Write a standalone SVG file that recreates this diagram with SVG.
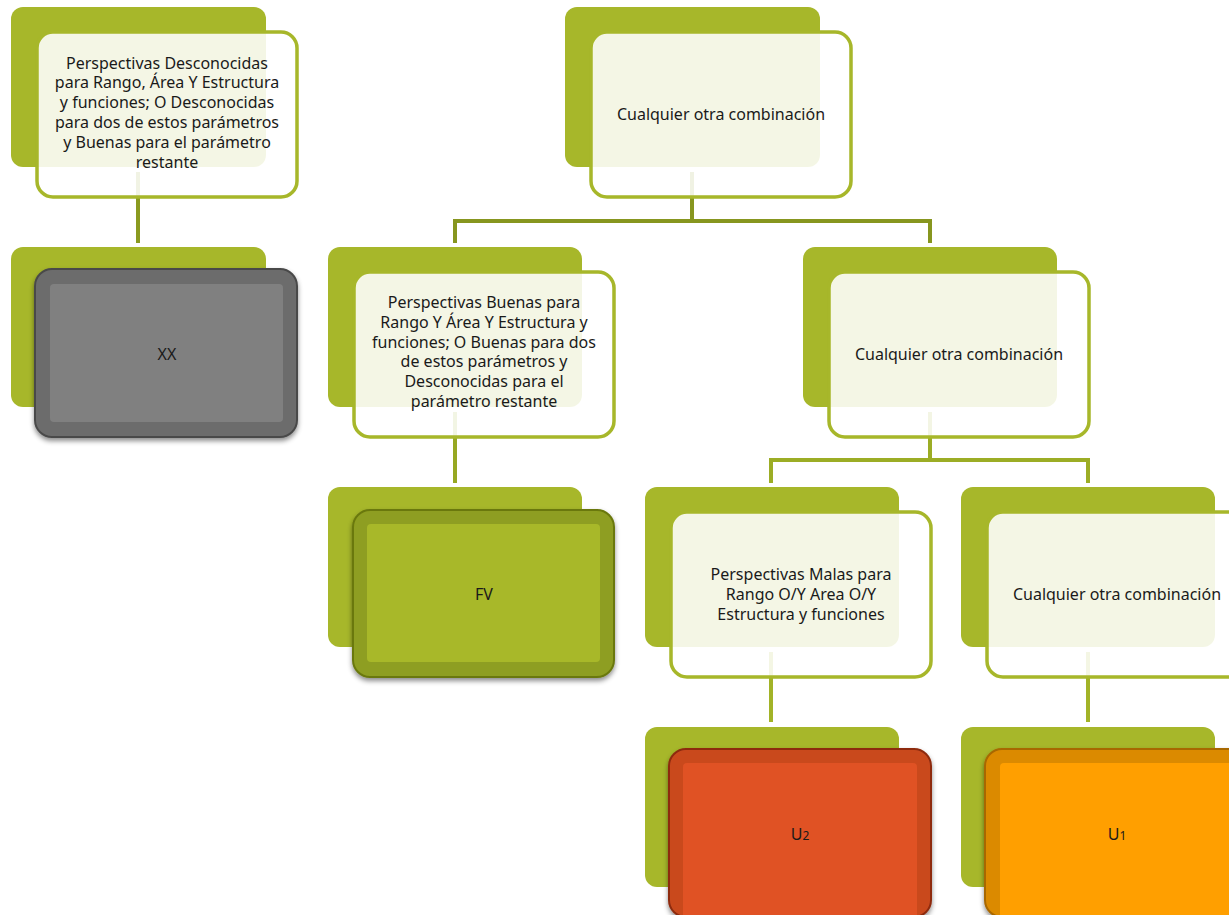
<svg xmlns="http://www.w3.org/2000/svg" width="1229" height="915" viewBox="0 0 1229 915">
<defs>
<style>
.back{fill:#a7b72a}
.front{fill:#ffffff;fill-opacity:0.88;stroke:#a7b72a;stroke-width:3.5}
.t{font-family:"Noto Sans","Open Sans",sans-serif;font-size:16px;fill:#1a1a1a;text-anchor:middle}
.conn{fill:none;stroke-width:4;stroke-linejoin:miter}
.gray .ring{fill:#6c6c6c;stroke:#4a4a4a;stroke-width:2}
.gray .core{fill:#808080}
.green .ring{fill:#8e9e20;stroke:#6a7810;stroke-width:2}
.green .core{fill:#a8b829}
.red .ring{fill:#c94a1f;stroke:#8e2c10;stroke-width:2}
.red .core{fill:#e05224}
.orange .ring{fill:#db8a00;stroke:#a86700;stroke-width:2}
.orange .core{fill:#ff9f00}
</style>
<filter id="sh" x="-10%" y="-10%" width="120%" height="130%">
<feDropShadow dx="0" dy="3" stdDeviation="2.5" flood-color="#000" flood-opacity="0.45"/>
</filter>
</defs>

<g id="connectors">
<path class="conn" stroke="#8a9a20" d="M138,172 V243"/>
<path class="conn" stroke="#87961f" d="M692,172 V221 M455,243 V221 H930 V243"/>
<path class="conn" stroke="#97a823" d="M455,412 V483"/>
<path class="conn" stroke="#9cad25" d="M930,412 V460 M771,483 V460 H1088 V483"/>
<path class="conn" stroke="#a2b327" d="M771,652 V722 M1088,652 V722"/>
</g>

<g id="n-desconocidas">
<rect class="back" x="11" y="7" width="255" height="160" rx="12"/>
<rect class="front" x="37" y="32" width="260" height="165" rx="16"/>
<text class="t" x="167" y="68.5">Perspectivas Desconocidas</text>
<text class="t" x="167" y="88.3">para Rango, Área Y Estructura</text>
<text class="t" x="167" y="108.1">y funciones; O Desconocidas</text>
<text class="t" x="167" y="127.9">para dos de estos parámetros</text>
<text class="t" x="167" y="147.7">y Buenas para el parámetro</text>
<text class="t" x="167" y="167.5">restante</text>
</g>

<g id="n-otra1">
<rect class="back" x="565" y="7" width="255" height="160" rx="12"/>
<rect class="front" x="591" y="32" width="260" height="165" rx="16"/>
<text class="t" x="721" y="119.5">Cualquier otra combinación</text>
</g>

<g id="n-xx" class="gray">
<rect class="back" x="11" y="247" width="255" height="160" rx="12"/>
<rect class="ring" x="35" y="269" width="262" height="168" rx="17" filter="url(#sh)"/>
<rect class="core" x="50" y="284" width="233" height="138" rx="4"/>
<text class="t" x="167" y="359.5">XX</text>
</g>

<g id="n-buenas">
<rect class="back" x="328" y="247" width="254" height="160" rx="12"/>
<rect class="front" x="354" y="272" width="260" height="165" rx="16"/>
<text class="t" x="484" y="308">Perspectivas Buenas para</text>
<text class="t" x="484" y="327.8">Rango Y Área Y Estructura y</text>
<text class="t" x="484" y="347.6">funciones; O Buenas para dos</text>
<text class="t" x="484" y="367.4">de estos parámetros y</text>
<text class="t" x="484" y="387.2">Desconocidas para el</text>
<text class="t" x="484" y="407">parámetro restante</text>
</g>

<g id="n-otra2">
<rect class="back" x="803" y="247" width="254" height="160" rx="12"/>
<rect class="front" x="829" y="272" width="260" height="165" rx="16"/>
<text class="t" x="959" y="359.5">Cualquier otra combinación</text>
</g>

<g id="n-fv" class="green">
<rect class="back" x="328" y="487" width="254" height="160" rx="12"/>
<rect class="ring" x="353" y="510" width="261" height="167" rx="17" filter="url(#sh)"/>
<rect class="core" x="367" y="524" width="233" height="138" rx="4"/>
<text class="t" x="484" y="599.5">FV</text>
</g>

<g id="n-malas">
<rect class="back" x="645" y="487" width="254" height="160" rx="12"/>
<rect class="front" x="671" y="512" width="260" height="165" rx="16"/>
<text class="t" x="801" y="579.5">Perspectivas Malas para</text>
<text class="t" x="801" y="599.5">Rango O/Y Area O/Y</text>
<text class="t" x="801" y="619.5">Estructura y funciones</text>
</g>

<g id="n-otra3">
<rect class="back" x="961" y="487" width="254" height="160" rx="12"/>
<rect class="front" x="987" y="512" width="260" height="165" rx="16"/>
<text class="t" x="1117" y="599.5">Cualquier otra combinación</text>
</g>

<g id="n-u2" class="red">
<rect class="back" x="645" y="727" width="254" height="160" rx="12"/>
<rect class="ring" x="669" y="749" width="262" height="168" rx="17" filter="url(#sh)"/>
<rect class="core" x="683" y="763" width="234" height="160" rx="4"/>
<text class="t" x="800" y="839.5">U<tspan font-size="12">2</tspan></text>
</g>

<g id="n-u1" class="orange">
<rect class="back" x="961" y="727" width="254" height="160" rx="12"/>
<rect class="ring" x="985" y="749" width="262" height="168" rx="17" filter="url(#sh)"/>
<rect class="core" x="1000" y="763" width="234" height="160" rx="4"/>
<text class="t" x="1117" y="839.5">U<tspan font-size="12">1</tspan></text>
</g>
</svg>
